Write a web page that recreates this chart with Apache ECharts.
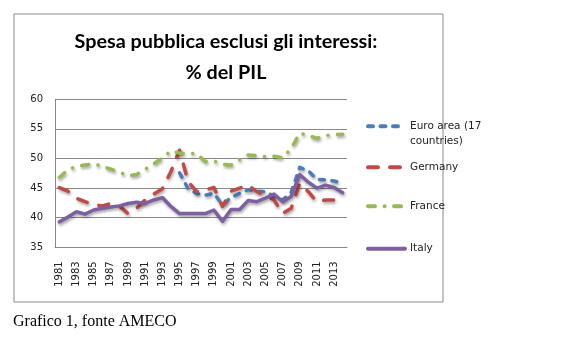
<!DOCTYPE html>
<html>
<head>
<meta charset="utf-8">
<script src="https://cdn.jsdelivr.net/npm/echarts@6/dist/echarts.min.js"></script>
<style>
  html, body { margin: 0; padding: 0; background: #fff; }
  #chart { width: 585px; height: 348px; }
</style>
</head>
<body>
<div id="chart"></div>
<script>
// Years 1981–2014
const years = ['1981','1982','1983','1984','1985','1986','1987','1988','1989','1990',
  '1991','1992','1993','1994','1995','1996','1997','1998','1999','2000',
  '2001','2002','2003','2004','2005','2006','2007','2008','2009','2010',
  '2011','2012','2013','2014'];

// Primary public expenditure, % of GDP
const euroArea = [null,null,null,null,null,null,null,null,null,null,
  null,null,null,null,47.6,44.9,44.1,43.8,44.1,42.2,
  43.4,44.1,44.7,44.5,44.4,43.6,43.0,44.3,48.5,47.9,
  46.5,46.4,46.2,45.8];
const germany = [45.1,44.5,43.3,42.7,42.2,42.0,42.4,42.0,40.7,41.6,
  43.0,44.0,44.9,47.8,51.4,46.1,44.4,44.7,45.1,41.9,
  44.5,45.0,45.5,44.4,43.8,43.0,40.7,41.6,45.8,44.4,
  42.7,43.0,43.0,43.0];
const france = [46.8,48.1,48.7,48.9,49.1,48.7,48.2,47.7,47.1,47.3,
  48.2,49.1,50.1,51.3,50.9,50.9,50.8,49.5,49.6,49.0,
  48.9,49.8,50.6,50.5,50.3,50.4,50.1,51.7,54.3,53.9,
  53.4,53.9,54.0,54.1];
const italy = [39.3,40.1,41.0,40.6,41.3,41.6,41.8,42.0,42.4,42.6,
  42.4,43.0,43.4,41.9,40.7,40.7,40.7,40.7,41.3,39.4,
  41.4,41.4,42.9,42.7,43.3,44.0,42.7,43.6,47.3,46.0,
  45.0,45.5,45.1,44.2];

const yTicks = [35, 40, 45, 50, 55, 60];

const seriesNames = ['Euro area (17 countries)', 'Germany', 'France', 'Italy'];

const chart = echarts.init(document.getElementById('chart'));

const shadow = { shadowColor: 'rgba(0,0,0,0.35)', shadowBlur: 3, shadowOffsetX: 1, shadowOffsetY: 2 };

function line(name, data, color, dash) {
  return {
    name: name,
    type: 'line',
    data: data,
    symbol: 'none',
    connectNulls: false,
    lineStyle: Object.assign({ color: color, width: 3.5, type: dash, cap: 'round', join: 'round' }, shadow),
    itemStyle: { color: color },
    emphasis: { disabled: true }
  };
}

// One legend block per series so each entry sits at its own height
function legendAt(name, top) {
  return {
    data: [name],
    left: 366,
    top: top,
    orient: 'vertical',
    padding: 0,
    itemWidth: 37,
    itemHeight: 10,
    itemGap: 0,
    selectedMode: false,
    itemStyle: { opacity: 0 },
    lineStyle: { width: 4 },
    textStyle: { fontFamily: 'DejaVu Sans', fontSize: 10.5, color: '#222', lineHeight: 15.5 },
    // the long label wraps; a leading blank line keeps its first line level with the sample
    formatter: function (n) { return n === seriesNames[0] ? '\nEuro area (17\ncountries)' : n; }
  };
}

chart.setOption({
  animation: false,
  backgroundColor: '#fff',
  title: {
    text: 'Spesa pubblica esclusi gli interessi:\n% del PIL',
    left: 221,
    top: 21.5,
    textAlign: 'center',
    textStyle: { fontFamily: 'Lato', fontWeight: 'bold', fontSize: 19.8, lineHeight: 30.5, color: '#000' }
  },
  legend: [
    legendAt(seriesNames[0], 103),
    legendAt(seriesNames[1], 159.5),
    legendAt(seriesNames[2], 198.5),
    legendAt(seriesNames[3], 241)
  ],
  grid: { left: 55, right: 238, top: 99.3, bottom: 100.7, containLabel: false },
  xAxis: {
    type: 'category',
    data: years,
    boundaryGap: true,
    axisLine: { show: true, lineStyle: { color: '#888' } },
    axisTick: { show: false },
    axisLabel: { interval: 1, rotate: 90, margin: 14, fontFamily: 'DejaVu Sans', fontSize: 10, color: '#222' },
    splitLine: { show: false }
  },
  yAxis: {
    type: 'value',
    min: yTicks[0],
    max: yTicks[yTicks.length - 1],
    interval: 5,
    axisLine: { show: true, lineStyle: { color: '#888' } },
    axisTick: { show: false },
    axisLabel: { margin: 12, fontFamily: 'DejaVu Sans', fontSize: 10, color: '#222' },
    splitLine: { show: true, lineStyle: { color: '#888', width: 1 } }
  },
  series: [
    line(seriesNames[0], euroArea, '#4A7EBB', [5, 7.5]),
    line(seriesNames[1], germany, '#BE4B48', [10, 12]),
    line(seriesNames[2], france, '#98B954', [7, 9.5, 0.1, 9.5]),
    line(seriesNames[3], italy, '#7D60A0', 'solid')
  ],
  graphic: [
    { type: 'rect', shape: { x: 14, y: 14, width: 429, height: 288 }, style: { fill: 'none', stroke: '#888', lineWidth: 1 }, silent: true, z: -1 },
    { type: 'text', left: 13, top: 314, style: { text: 'Grafico 1, fonte AMECO', fontFamily: 'Liberation Serif', fontSize: 16, fill: '#000' } }
  ]
});
</script>
</body>
</html>
